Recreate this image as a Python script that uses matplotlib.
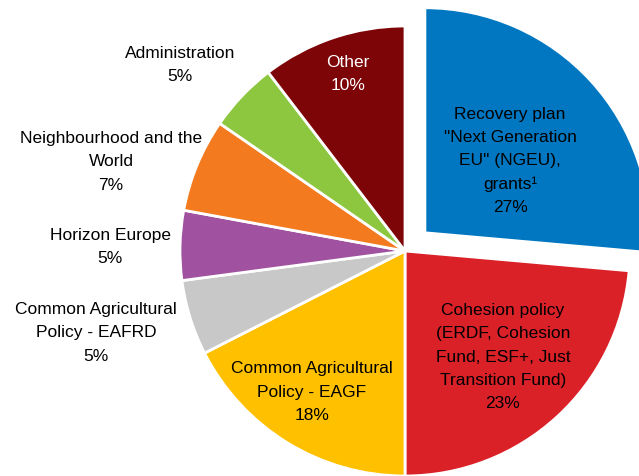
"""
EU budget split pie chart (shares by heading)
"""

import matplotlib
matplotlib.use('Agg')
import matplotlib.pyplot as plt

# Slice order: clockwise from 12 o'clock
categories = [
    'Recovery plan\n"Next Generation\nEU" (NGEU),\ngrants\u00b9',
    'Cohesion policy\n(ERDF, Cohesion\nFund, ESF+, Just\nTransition Fund)',
    'Common Agricultural\nPolicy - EAGF',
    'Common Agricultural\nPolicy - EAFRD',
    'Horizon Europe',
    'Neighbourhood and the\nWorld',
    'Administration',
    'Other',
]
shares = [26.4, 23.6, 17.5, 5.4, 5.0, 6.7, 5.0, 10.4]
pct_labels = ['27%', '23%', '18%', '5%', '5%', '7%', '5%', '10%']

colors = ['#0077C0', '#DA2128', '#FFC000', '#C8C8C8',
          '#A052A0', '#F47A20', '#8DC63F', '#7D0508']
text_colors = ['black'] * 7 + ['white']

# label block centres in pixels (x, y from top)
label_pos = [(510, 161), (503, 357), (312, 392), (96, 333),
             (110, 247), (111, 162), (180, 65), (348, 74)]

W, H = 639, 476
plt.rcParams['font.family'] = ['Liberation Sans', 'DejaVu Sans']

fig = plt.figure(figsize=(W / 100, H / 100), dpi=100)
ax = fig.add_axes([0, 0, 1, 1])

# explode is in data units here (radius is 225 px)
explode = [27, 0, 0, 0, 0, 0, 0, 0]
ax.pie(shares, colors=colors, startangle=90, counterclock=False,
       explode=explode, center=(405, H - 251), radius=225,
       wedgeprops={'edgecolor': 'white', 'linewidth': 2},
       frame=True)
ax.set_xlim(0, W)
ax.set_ylim(0, H)
ax.axis('off')

for cat, pct, (x, y), tc in zip(categories, pct_labels, label_pos, text_colors):
    ax.text(x, H - y, f'{cat}\n{pct}', ha='center', va='center',
            fontsize=12.5, color=tc, linespacing=1.68)

fig.savefig('out.png', dpi=100)
